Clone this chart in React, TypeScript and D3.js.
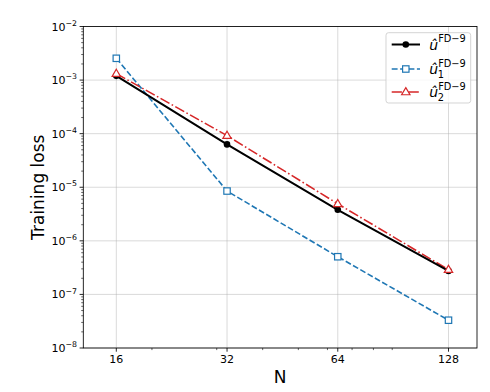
import React from "react";
import * as d3 from "d3";

const nValues = [16, 32, 64, 128];
const xTickLabels = ["16", "32", "64", "128"];
const lossU = [1.2e-3, 6.3e-5, 3.8e-6, 2.75e-7];
const lossU1 = [2.55e-3, 8.5e-6, 5.05e-7, 3.3e-8];
const lossU2 = [1.32e-3, 9.2e-5, 4.9e-6, 2.9e-7];
const yDecades = [-8, -7, -6, -5, -4, -3, -2];

const W = 490;
const H = 392;
const plotLeft = 83.3;
const plotRight = 477;
const plotTop = 26.5;
const plotBottom = 348;

const FONT = "DejaVu Sans, sans-serif";

export default function App() {
  const xAnchor = d3.scaleLog().base(2).domain([16, 128]).range([116.3, 448.5]);
  const x = d3
    .scaleLog()
    .base(2)
    .domain([xAnchor.invert(plotLeft), xAnchor.invert(plotRight)])
    .range([plotLeft, plotRight]);
  const y = d3.scaleLog().domain([1e-8, 1e-2]).range([plotBottom, plotTop]);

  const xMinor = [20, 30, 40, 50, 60, 70, 80, 90];
  const yMinor: number[] = [];
  for (let k = -8; k < -2; k++) {
    for (let m = 2; m <= 9; m++) yMinor.push(m * Math.pow(10, k));
  }

  const line = d3
    .line<number>()
    .x((_, i) => x(nValues[i]))
    .y((d) => y(d));

  const blue = "#1f77b4";
  const red = "#d62728";

  const triangle = (cx: number, cy: number, r: number) =>
    `M${cx},${cy - r} L${cx + r * 0.95},${cy + r * 0.62} L${cx - r * 0.95},${cy + r * 0.62} Z`;

  const legendX = 386;
  const legendY = 32.7;
  const legendRows = [44.5, 69, 92];
  const labelSubs = ["", "1", "2"];

  return (
    <svg width={W} height={H} style={{ position: "absolute", left: 0, top: 0 }} fontFamily={FONT}>
      <rect x={0} y={0} width={W} height={H} fill="white" />
      <clipPath id="plotclip">
        <rect x={plotLeft} y={plotTop} width={plotRight - plotLeft} height={plotBottom - plotTop} />
      </clipPath>
      <g stroke="#b0b0b0" strokeOpacity={0.55} strokeWidth={0.85}>
        {nValues.map((n) => (
          <line key={"gx" + n} x1={x(n)} x2={x(n)} y1={plotTop} y2={plotBottom} />
        ))}
        {yDecades.map((k) => (
          <line key={"gy" + k} x1={plotLeft} x2={plotRight} y1={y(Math.pow(10, k))} y2={y(Math.pow(10, k))} />
        ))}
      </g>
      <g clipPath="url(#plotclip)" fill="none">
        <path d={line(lossU1) || ""} stroke={blue} strokeWidth={1.6} strokeDasharray="5.9,2.5" />
        <path d={line(lossU2) || ""} stroke={red} strokeWidth={1.6} strokeDasharray="10.2,2.55,1.6,2.55" />
        <path d={line(lossU) || ""} stroke="black" strokeWidth={2} />
      </g>
      <g>
        {lossU.map((v, i) => (
          <circle key={"cu" + i} cx={x(nValues[i])} cy={y(v)} r={3.3} fill="black" />
        ))}
        {lossU1.map((v, i) => (
          <rect
            key={"cu1" + i}
            x={x(nValues[i]) - 3.2}
            y={y(v) - 3.2}
            width={6.4}
            height={6.4}
            fill="white"
            stroke={blue}
            strokeWidth={1.2}
          />
        ))}
        {lossU2.map((v, i) => (
          <path key={"cu2" + i} d={triangle(x(nValues[i]), y(v), 4.4)} fill="white" stroke={red} strokeWidth={1.2} />
        ))}
      </g>
      <rect
        x={plotLeft}
        y={plotTop}
        width={plotRight - plotLeft}
        height={plotBottom - plotTop}
        fill="none"
        stroke="black"
        strokeWidth={0.85}
      />
      <g stroke="black" strokeWidth={0.85}>
        {nValues.map((n) => (
          <line key={"tx" + n} x1={x(n)} x2={x(n)} y1={plotBottom} y2={plotBottom + 3.7} />
        ))}
        {xMinor.map((n) => (
          <line key={"mx" + n} x1={x(n)} x2={x(n)} y1={plotBottom} y2={plotBottom + 2.1} strokeWidth={0.6} />
        ))}
        {yDecades.map((k) => (
          <line
            key={"ty" + k}
            x1={plotLeft - 3.7}
            x2={plotLeft}
            y1={y(Math.pow(10, k))}
            y2={y(Math.pow(10, k))}
          />
        ))}
        {yMinor.map((v, i) => (
          <line key={"my" + i} x1={plotLeft - 2.1} x2={plotLeft} y1={y(v)} y2={y(v)} strokeWidth={0.6} />
        ))}
      </g>
      <g fontSize={11} fill="black">
        {nValues.map((n, i) => (
          <text key={"lx" + n} x={x(n)} y={362.5} textAnchor="middle">
            {xTickLabels[i]}
          </text>
        ))}
        {yDecades.map((k) => (
          <text key={"ly" + k} x={77} y={y(Math.pow(10, k)) + 4} textAnchor="end">
            10
            <tspan fontSize={7.8} dy={-4.8}>
              {"\u2212" + Math.abs(k)}
            </tspan>
          </text>
        ))}
      </g>
      <text x={(plotLeft + plotRight) / 2} y={383} textAnchor="middle" fontSize={17}>
        N
      </text>
      <text
        transform={`translate(44,${(plotTop + plotBottom) / 2}) rotate(-90)`}
        textAnchor="middle"
        fontSize={17}
      >
        Training loss
      </text>
      <g>
        <rect
          x={legendX}
          y={legendY}
          width={84.7}
          height={70.3}
          rx={2.5}
          fill="white"
          fillOpacity={0.8}
          stroke="#cccccc"
          strokeWidth={0.85}
        />
        <line x1={391.7} x2={420} y1={legendRows[0]} y2={legendRows[0]} stroke="black" strokeWidth={2} />
        <circle cx={405.8} cy={legendRows[0]} r={3.3} fill="black" />
        <line
          x1={391.7}
          x2={420}
          y1={legendRows[1]}
          y2={legendRows[1]}
          stroke={blue}
          strokeWidth={1.6}
          strokeDasharray="5.9,2.5"
        />
        <rect
          x={405.8 - 3.2}
          y={legendRows[1] - 3.2}
          width={6.4}
          height={6.4}
          fill="white"
          stroke={blue}
          strokeWidth={1.2}
        />
        <line
          x1={391.7}
          x2={420}
          y1={legendRows[2]}
          y2={legendRows[2]}
          stroke={red}
          strokeWidth={1.6}
          strokeDasharray="10.2,2.55,1.6,2.55"
        />
        <path d={triangle(405.8, legendRows[2], 4.4)} fill="white" stroke={red} strokeWidth={1.2} />
        {legendRows.map((ry, i) => (
          <text key={"leg" + i} x={429.3} y={ry + 5} fontSize={14} fill="black">
            <tspan fontStyle="italic">{"\u00fb"}</tspan>
            {labelSubs[i] ? (
              <>
                <tspan fontSize={9.8} dy={-7.5}>
                  {"FD\u22129"}
                </tspan>
                <tspan fontSize={9.8} x={437.8} dy={11.5}>
                  {labelSubs[i]}
                </tspan>
              </>
            ) : (
              <tspan fontSize={9.8} dy={-7.5}>
                {"FD\u22129"}
              </tspan>
            )}
          </text>
        ))}
      </g>
    </svg>
  );
}
